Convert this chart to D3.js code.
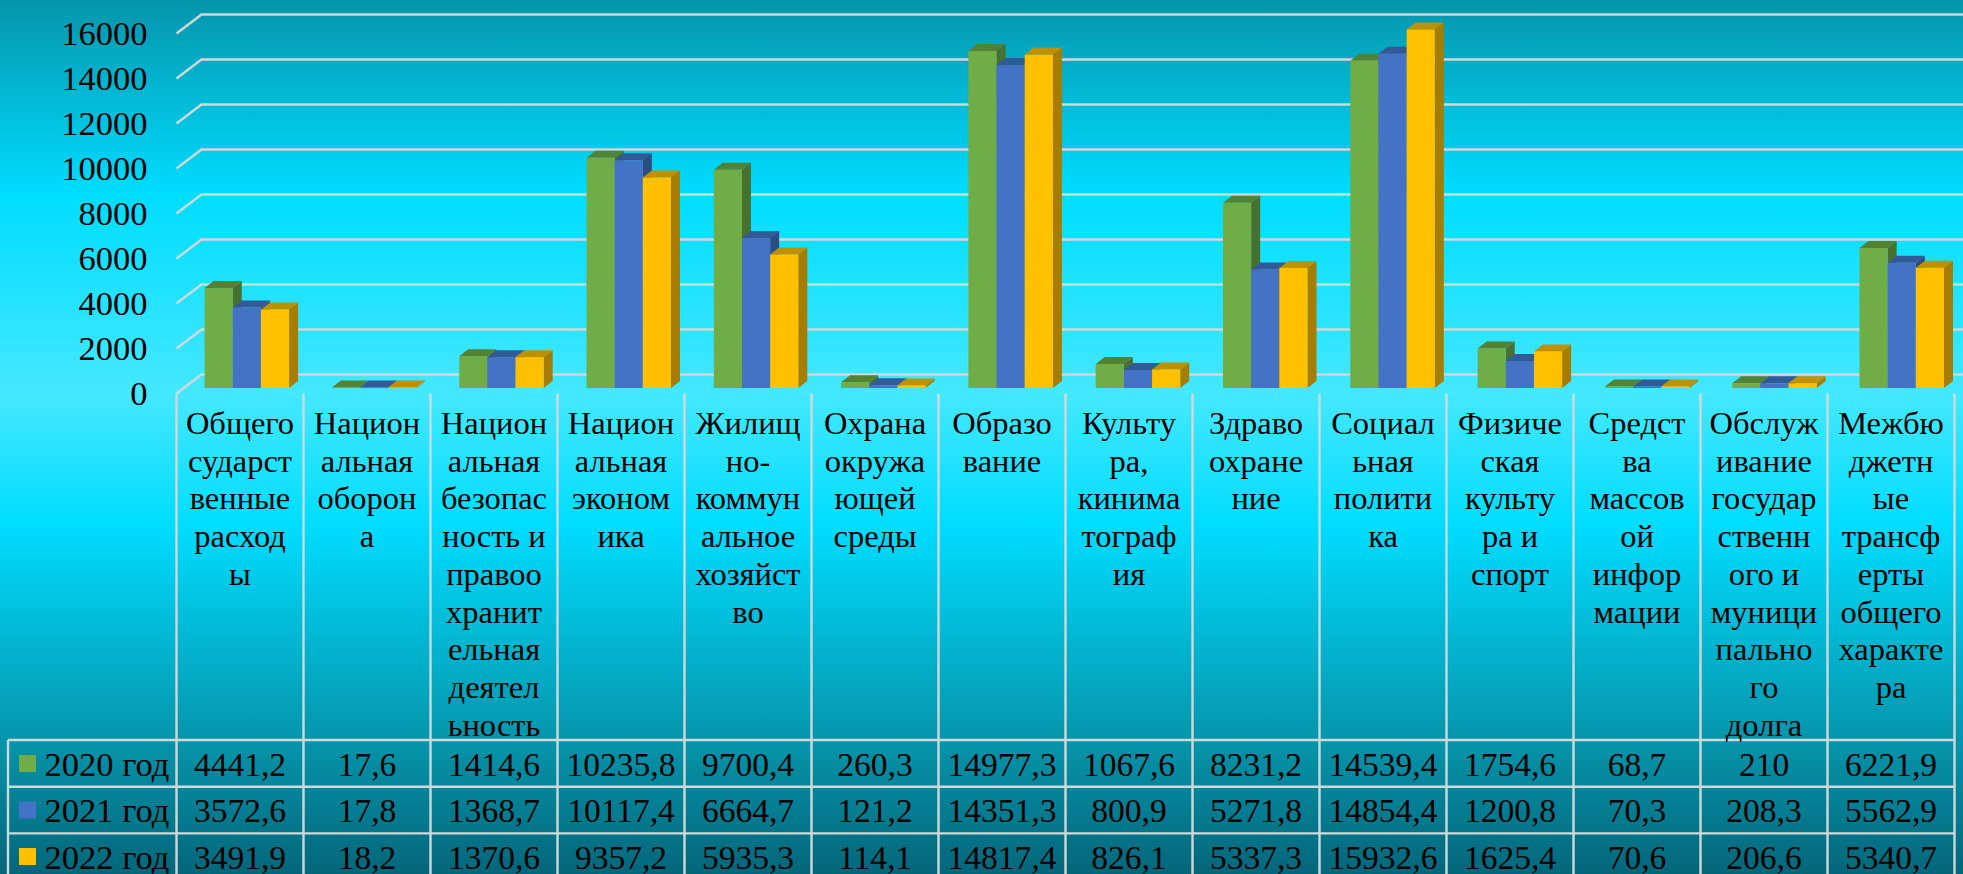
<!DOCTYPE html>
<html>
<head>
<meta charset="utf-8">
<style>
  html, body { margin: 0; padding: 0; overflow: hidden; background: #00ddff; }
  svg { display: block; }
  text { font-family: "Liberation Serif", serif; fill: #000; }
</style>
<script src="https://d3js.org/d3.v7.min.js"></script>
</head>
<body>
<script>
const categories = [
  ["Общего","сударст","венные","расход","ы"],
  ["Национ","альная","оборон","а"],
  ["Национ","альная","безопас","ность и","правоо","хранит","ельная","деятел","ьность"],
  ["Национ","альная","эконом","ика"],
  ["Жилищ","но-","коммун","альное","хозяйст","во"],
  ["Охрана","окружа","ющей","среды"],
  ["Образо","вание"],
  ["Культу","ра,","кинима","тограф","ия"],
  ["Здраво","охране","ние"],
  ["Социал","ьная","полити","ка"],
  ["Физиче","ская","культу","ра и","спорт"],
  ["Средст","ва","массов","ой","инфор","мации"],
  ["Обслуж","ивание","государ","ственн","ого и","муници","пально","го","долга"],
  ["Межбю","джетн","ые","трансф","ерты","общего","характе","ра"]
];
const years = ["2020 год","2021 год","2022 год"];
const v2020 = [4441.2,17.6,1414.6,10235.8,9700.4,260.3,14977.3,1067.6,8231.2,14539.4,1754.6,68.7,210,6221.9];
const v2021 = [3572.6,17.8,1368.7,10117.4,6664.7,121.2,14351.3,800.9,5271.8,14854.4,1200.8,70.3,208.3,5562.9];
const v2022 = [3491.9,18.2,1370.6,9357.2,5935.3,114.1,14817.4,826.1,5337.3,15932.6,1625.4,70.6,206.6,5340.7];
const series = [v2020, v2021, v2022];
const yTicks = [0,2000,4000,6000,8000,10000,12000,14000,16000];
const front = ["#70ad47","#4472c4","#ffc000"];
const topSide = ["#548235","#335a96","#bf9000"];
const rightSide = ["#48702e","#2c4d80","#a67d00"];

const w = 1963, h = 874;
const svg = d3.select("body").append("svg").attr("width", w).attr("height", h);

// background bands
const defs = svg.append("defs");
const grad = defs.append("linearGradient").attr("id","bg").attr("x1",0).attr("y1",0).attr("x2",0).attr("y2",1);
[[0,"#0595ab"],[0.223,"#00ddff"],[0.452,"#45e8ff"],[0.6,"#00ddff"],[0.847,"#0595ab"],[1,"#04667a"]].forEach(s =>
  grad.append("stop").attr("offset", s[0]).attr("stop-color", s[1]));
svg.append("rect").attr("width",w).attr("height",h).attr("fill","url(#bg)");

const idx = d3.range(categories.length);
const x = d3.scaleBand().domain(idx).range([176.5, 1954.5]);
const xBar = d3.scaleBand().domain(idx).range([204.6, 204.6 + 127.3*14]);
const y = d3.scaleLinear().domain([0,16000]).range([393.5, 33.5]);
const sub = d3.scaleBand().domain([0,1,2]).range([0, 84.5]);
const barBase = 388 - 393.5;
const gridDx = 25, gridDy = 19, depthX = 9, depthY = 7;
const lineColor = "#d0d8d8";

// gridlines
svg.append("g").selectAll("path").data(yTicks).join("path")
  .attr("d", d => `M${x(0)},${y(d)}L${x(0)+gridDx},${y(d)-gridDy}L${w},${y(d)-gridDy}`)
  .attr("fill","none").attr("stroke",lineColor).attr("stroke-width",2.4);

// y labels
svg.append("g").selectAll("text").data(yTicks).join("text")
  .attr("x",147.5).attr("y",d => y(d)+11.5).attr("text-anchor","end")
  .attr("font-size",34.5).text(d => d);

// 3d bars, left to right so each front covers the side of the one before
const bars = svg.append("g");
idx.forEach(i => {
  series.forEach((s,k) => {
    const x0 = xBar(i) + sub(k), x1 = x0 + sub.bandwidth();
    const y0 = y(0) + barBase, y1 = y(s[i]) + barBase;
    const g = bars.append("g");
    g.append("path").attr("fill",rightSide[k])
      .attr("d",`M${x1},${y0}L${x1+depthX},${y0-depthY}L${x1+depthX},${y1-depthY}L${x1},${y1}Z`);
    g.append("path").attr("fill",topSide[k])
      .attr("d",`M${x0},${y1}L${x0+depthX},${y1-depthY}L${x1+depthX},${y1-depthY}L${x1},${y1}Z`);
    g.append("rect").attr("x",x0).attr("y",y1).attr("width",sub.bandwidth()).attr("height",Math.max(y0-y1,0.5)).attr("fill",front[k]);
  });
});

// table lines
const tableTop = 740, rowH = 46.7, labelLeft = 8;
const rowY = d3.range(4).map(r => tableTop + r*rowH);
const tableRight = x(13) + x.bandwidth();
const table = svg.append("g").attr("stroke",lineColor).attr("stroke-width",2.4);
d3.range(15).forEach(i => {
  const lx = i < 14 ? x(i) : tableRight;
  table.append("line").attr("x1",lx).attr("x2",lx).attr("y1",393.5).attr("y2",h);
});
table.append("line").attr("x1",labelLeft).attr("x2",labelLeft).attr("y1",tableTop).attr("y2",h);
rowY.forEach(ry => table.append("line").attr("x1",labelLeft).attr("x2",tableRight).attr("y1",ry).attr("y2",ry));

// category labels
const cat = svg.append("g").attr("text-anchor","middle").attr("font-size",32.5);
categories.forEach((lines,i) => {
  lines.forEach((t,l) => {
    cat.append("text").attr("x",x(i)+x.bandwidth()/2).attr("y",434+l*37.7).text(t);
  });
});

// table rows
series.forEach((s,k) => {
  const base = 775.5 + k*46.5;
  svg.append("rect").attr("x",19).attr("y",base-20.5).attr("width",17).attr("height",17).attr("fill",front[k]);
  svg.append("text").attr("x",44.5).attr("y",base).attr("font-size",34.5).text(years[k]);
  s.forEach((v,i) => {
    svg.append("text").attr("x",x(i)+x.bandwidth()/2).attr("y",base).attr("text-anchor","middle")
      .attr("font-size",33.5).text(String(v).replace(".",","));
  });
});
</script>
</body>
</html>
